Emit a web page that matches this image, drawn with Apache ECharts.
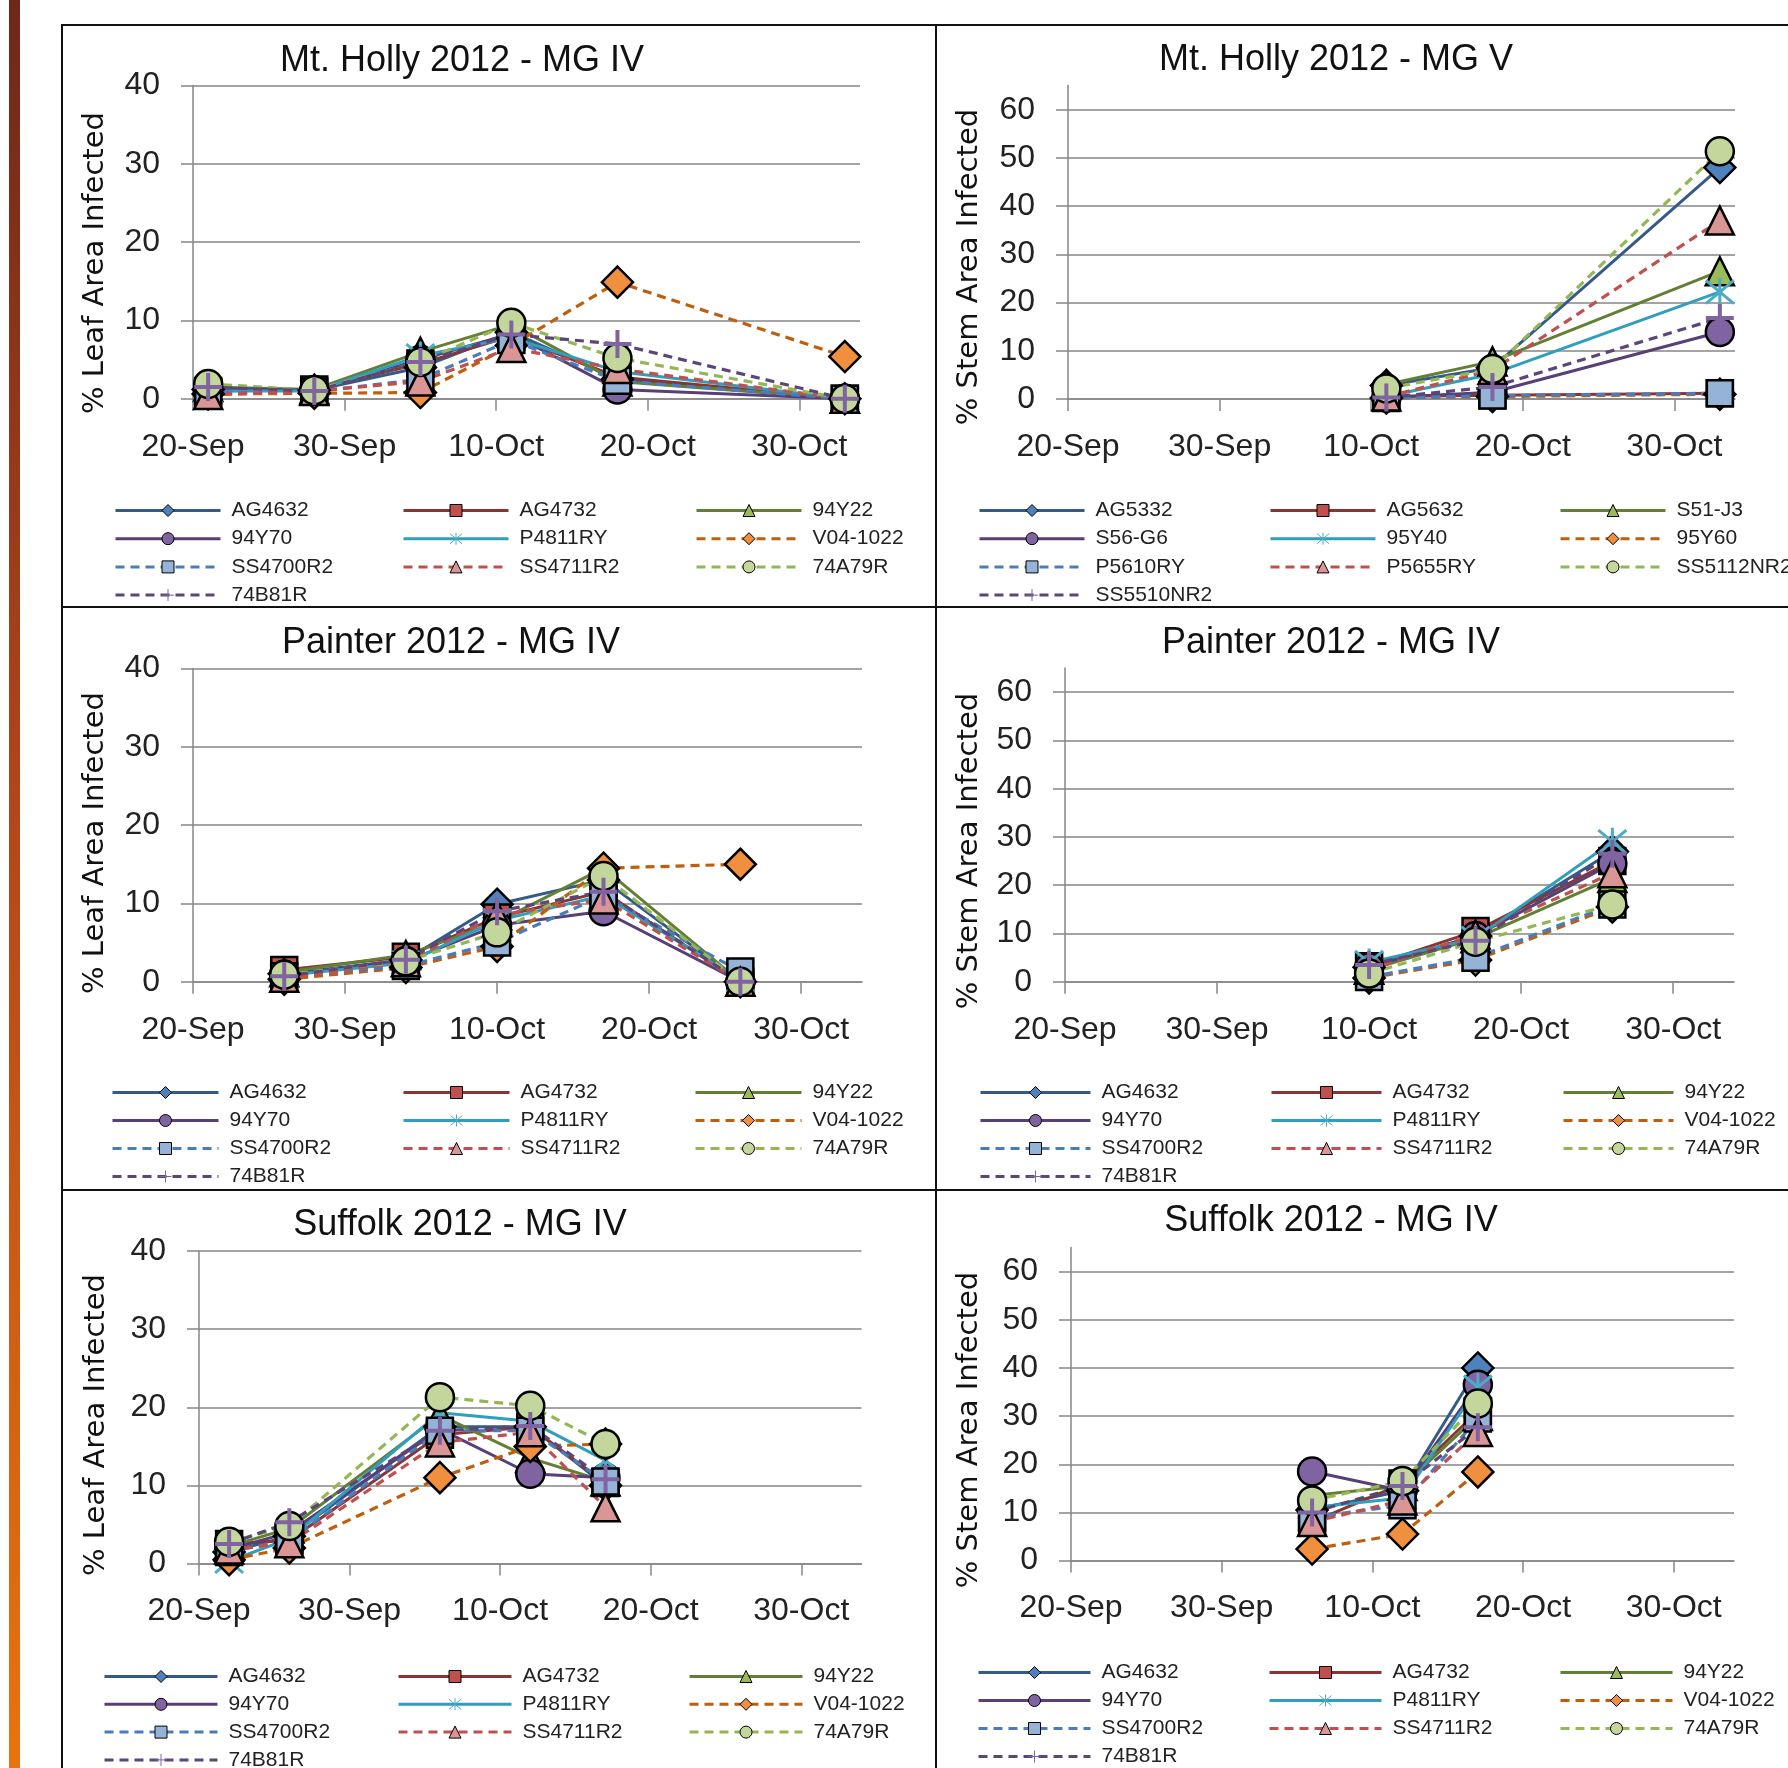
<!DOCTYPE html>
<html>
<head>
<meta charset="utf-8">
<title>Leaf and stem area infected, 2012</title>
<script src="https://cdn.jsdelivr.net/npm/echarts@6/dist/echarts.min.js"></script>
<style>
  html, body { margin: 0; padding: 0; background: #fff; }
  #wrap { position: relative; width: 1788px; height: 1768px; overflow: hidden; background: #fff; }
  #chart { position: absolute; left: 0; top: 0; width: 1788px; height: 1840px; }
  .strip { position: absolute; left: 9px; top: 0; width: 11px; height: 1768px;
           background: linear-gradient(#6e2819, #b0461b 45%, #e8730f); }
  .rule { position: absolute; background: #111; }
</style>
</head>
<body>
<div id="wrap">
  <div class="strip"></div>
  <div class="rule" style="left:61px; top:24px; width:1727px; height:2px;"></div>
  <div class="rule" style="left:61px; top:24px; width:2px; height:1744px;"></div>
  <div class="rule" style="left:935px; top:24px; width:2px; height:1744px;"></div>
  <div class="rule" style="left:61px; top:606px; width:1727px; height:2px;"></div>
  <div class="rule" style="left:61px; top:1189px; width:1727px; height:2px;"></div>
  <div id="chart"></div>
</div>
<script>
// ---- data ---------------------------------------------------------------
const dateTicks = ['20-Sep', '30-Sep', '10-Oct', '20-Oct', '30-Oct'];

const entriesIV = ['AG4632', 'AG4732', '94Y22', '94Y70', 'P4811RY',
                   'V04-1022', 'SS4700R2', 'SS4711R2', '74A79R', '74B81R'];
const entriesV  = ['AG5332', 'AG5632', 'S51-J3', 'S56-G6', '95Y40',
                   '95Y60', 'P5610RY', 'P5655RY', 'SS5112NR2', 'SS5510NR2'];

// Mt. Holly, MG IV, % leaf area infected (one row per entry)
const mtHollyLeafDates = ['2012-09-21', '2012-09-28', '2012-10-05', '2012-10-11', '2012-10-18', '2012-11-02'];
const mtHollyLeafValues = [
  [1.2, 1.1, 4.0, 8.5, 2.5, 0],
  [1.0, 1.2, 4.5, 8.0, 2.8, 0],
  [1.5, 1.2, 6.0, 9.5, 2.2, 0],
  [1.3, 1.1, 5.0, 8.3, 1.2, 0],
  [1.0, 1.0, 5.5, 7.8, 3.5, 0],
  [0.6, 0.7, 0.8, 6.8, 14.9, 5.4],
  [0.8, 0.9, 2.5, 7.5, 2.3, 0],
  [0.5, 1.0, 2.2, 6.5, 3.8, 0],
  [1.9, 1.1, 4.7, 9.7, 5.2, 0],
  [1.5, 1.0, 4.7, 8.2, 7.0, 0]
];

// Mt. Holly, MG V, % stem area infected
const mtHollyStemDates = ['2012-10-11', '2012-10-18', '2012-11-02'];
const mtHollyStemValues = [
  [2.8, 6.5, 48.0],
  [0.5, 0.8, 1.2],
  [3.0, 7.8, 26.5],
  [0.3, 1.4, 13.9],
  [0.5, 5.2, 22.2],
  [0.2, 0.5, 1.0],
  [0.2, 0.7, 1.2],
  [0.5, 6.0, 37.0],
  [2.2, 6.2, 51.4],
  [0.3, 2.5, 16.8]
];

// Painter, MG IV, % leaf area infected
const painterLeafDates = ['2012-09-26', '2012-10-04', '2012-10-10', '2012-10-17', '2012-10-26'];
const painterLeafValues = [
  [1.0, 2.8, 9.9, 13.0, 0],
  [1.5, 3.2, 8.2, 11.5, 0],
  [1.2, 3.4, 7.6, 14.5, 0],
  [0.9, 2.6, 7.2, 9.0, 0],
  [0.8, 2.4, 7.8, 11.0, 0.2],
  [0.3, 1.8, 4.5, 14.5, 15.0],
  [0.7, 2.0, 5.0, 11.0, 1.3],
  [0.5, 2.5, 8.5, 10.5, 0],
  [0.9, 2.6, 6.3, 13.5, 0],
  [0.7, 2.8, 9.0, 11.5, 0]
];

// Painter, MG IV, % stem area infected
const painterStemDates = ['2012-10-10', '2012-10-17', '2012-10-26'];
const painterStemValues = [
  [3.0, 9.5, 27.0],
  [3.2, 10.5, 25.0],
  [2.5, 9.0, 21.5],
  [3.0, 9.5, 24.5],
  [4.0, 9.0, 29.0],
  [0.8, 4.5, 15.5],
  [1.0, 5.0, 16.0],
  [2.5, 9.8, 22.5],
  [1.7, 8.3, 16.0],
  [3.5, 8.5, 26.5]
];

// Suffolk, MG IV, % leaf area infected
const suffolkLeafDates = ['2012-09-22', '2012-09-26', '2012-10-06', '2012-10-12', '2012-10-17'];
const suffolkLeafValues = [
  [1.5, 3.5, 17.5, 17.5, 10.0],
  [2.5, 3.0, 16.5, 17.5, 10.3],
  [2.2, 4.5, 19.0, 13.5, 10.5],
  [1.8, 4.0, 17.2, 11.5, 11.0],
  [0.3, 3.2, 19.3, 18.2, 13.2],
  [0.5, 2.0, 11.0, 15.0, 15.3],
  [1.5, 3.0, 17.0, 17.0, 10.5],
  [1.8, 2.6, 15.5, 16.8, 7.2],
  [2.8, 4.8, 21.3, 20.2, 15.3],
  [2.5, 5.3, 17.0, 17.6, 10.8]
];

// Suffolk, MG IV, % stem area infected
const suffolkStemDates = ['2012-10-06', '2012-10-12', '2012-10-17'];
const suffolkStemValues = [
  [10.5, 14.5, 40.0],
  [8.0, 16.0, 31.0],
  [13.5, 15.5, 30.0],
  [18.5, 14.5, 36.5],
  [11.0, 13.0, 36.0],
  [2.4, 5.5, 18.4],
  [9.0, 11.5, 29.5],
  [8.0, 12.5, 26.7],
  [12.5, 16.5, 32.6],
  [10.0, 15.5, 27.7]
];

// ---- styles -------------------------------------------------------------
const FONT = "'Liberation Sans', Arial, sans-serif";
const AXIS_GREY = '#868686';
const STAR = 'path://M0,0L10,10M10,0L0,10M5,-1L5,11';
const PLUS = 'path://M5,0L5,10M0,5L10,5';

const lineColors  = ['#345a8a', '#8a3532', '#627f34', '#583f78', '#2f9fbd',
                     '#bf5f0c', '#4a7cbd', '#c0504d', '#94b654', '#5c4678'];
const markerFills = ['#4f81bd', '#c0504d', '#9bbb59', '#8064a2', null,
                     '#f0903f', '#95b3d7', '#d99694', '#c3d69b', null];
const strokeMarks = ['', '', '', '', '#4bacc6', '', '', '', '', '#8064a2'];
const markerShapes = ['diamond', 'rect', 'triangle', 'circle', STAR,
                      'diamond', 'rect', 'triangle', 'circle', PLUS];
const markerSizes = [31, 26, 28, 28, 28, 31, 26, 28, 28, 28];
const dashedLine  = [false, false, false, false, false, true, true, true, true, true];

// ---- panel layout -------------------------------------------------------
const panels = [
  { title: 'Mt. Holly 2012 - MG IV', yName: '% Leaf Area Infected', names: entriesIV,
    dates: mtHollyLeafDates, values: mtHollyLeafValues, yMax: 40,
    grid: [193, 85.6, 667, 313.2], titleAt: [462, 61], yNameAt: [95, 263],
    legendLeft: [114, 402, 695], legendTop: 500, legendW: 105, legendGap: 7.2 },
  { title: 'Mt. Holly 2012 - MG V', yName: '% Stem Area Infected', names: entriesV,
    dates: mtHollyStemDates, values: mtHollyStemValues, yMax: 65,
    grid: [1068, 85.6, 667, 313.4], titleAt: [1336, 60], yNameAt: [969, 267],
    legendLeft: [978, 1269, 1559], legendTop: 500, legendW: 105, legendGap: 7.2 },
  { title: 'Painter 2012 - MG IV', yName: '% Leaf Area Infected', names: entriesIV,
    dates: painterLeafDates, values: painterLeafValues, yMax: 40,
    grid: [193, 668.5, 669, 313.2], titleAt: [451, 643], yNameAt: [95, 843],
    legendLeft: [111, 402, 694], legendTop: 1082, legendW: 106, legendGap: 7 },
  { title: 'Painter 2012 - MG IV', yName: '% Stem Area Infected', names: entriesIV,
    dates: painterStemDates, values: painterStemValues, yMax: 65,
    grid: [1065, 668, 669, 313.8], titleAt: [1331, 643], yNameAt: [969, 851],
    legendLeft: [979, 1270, 1562], legendTop: 1082, legendW: 110, legendGap: 7 },
  { title: 'Suffolk 2012 - MG IV', yName: '% Leaf Area Infected', names: entriesIV,
    dates: suffolkLeafDates, values: suffolkLeafValues, yMax: 40,
    grid: [199, 1251, 662.5, 312.6], titleAt: [460, 1225], yNameAt: [96, 1425],
    legendLeft: [103, 397, 688], legendTop: 1666, legendW: 113, legendGap: 6.8 },
  { title: 'Suffolk 2012 - MG IV', yName: '% Stem Area Infected', names: entriesIV,
    dates: suffolkStemDates, values: suffolkStemValues, yMax: 65,
    grid: [1071, 1247.5, 663, 313.1], titleAt: [1331, 1221], yNameAt: [969, 1430],
    legendLeft: [977, 1268, 1559], legendTop: 1662, legendW: 112, legendGap: 7 }
];

// days after 20 September 2012
const ORIGIN = Date.UTC(2012, 8, 20);
const dayOf = s => Math.round((Date.parse(s + 'T00:00:00Z') - ORIGIN) / 86400000);

const grids = [], xAxes = [], yAxes = [], series = [], legends = [], texts = [];

panels.forEach((p, i) => {
  grids.push({ left: p.grid[0], top: p.grid[1], width: p.grid[2], height: p.grid[3], containLabel: false });

  xAxes.push({
    type: 'value', gridIndex: i, min: 0, max: 44, interval: 10,
    axisLine: { show: true, onZero: false, lineStyle: { color: AXIS_GREY, width: 1.5 } },
    axisTick: { show: true, length: 12, lineStyle: { color: AXIS_GREY, width: 1.5 },
                customValues: [0, 10, 20, 30, 40] },
    axisLabel: { margin: 32, fontSize: 32, color: '#222', fontFamily: FONT,
                 customValues: [0, 10, 20, 30, 40],
                 formatter: v => (v % 10 === 0 ? dateTicks[v / 10] : '') },
    splitLine: { show: false }
  });

  const yTicks = [];
  for (let v = 0; v <= p.yMax - (p.yMax % 10); v += 10) yTicks.push(v);
  const gridColors = yTicks.map(() => AXIS_GREY);
  if (p.yMax % 10) gridColors.push('rgba(0,0,0,0)');

  yAxes.push({
    type: 'value', gridIndex: i, min: 0, max: p.yMax, interval: 10,
    axisLine: { show: true, lineStyle: { color: AXIS_GREY, width: 1.5 } },
    axisTick: { show: true, length: 12, lineStyle: { color: AXIS_GREY, width: 1.5 },
                customValues: yTicks },
    axisLabel: { margin: 33, fontSize: 32, color: '#222', fontFamily: FONT,
                 customValues: yTicks,
                 formatter: v => (v % 10 === 0 ? String(v) : '') },
    splitLine: { show: true, lineStyle: { color: gridColors, width: 1.5 } }
  });

  p.names.forEach((name, k) => {
    const stroke = strokeMarks[k];
    series.push({
      type: 'line', name: name, xAxisIndex: i, yAxisIndex: i,
      data: p.dates.map((d, j) => [dayOf(d), p.values[k][j]]),
      symbol: markerShapes[k], symbolSize: markerSizes[k],
      showAllSymbol: true, animation: false, silent: true,
      lineStyle: { color: lineColors[k], width: dashedLine[k] ? 3.2 : 3,
                   type: dashedLine[k] ? [9, 6] : 'solid' },
      itemStyle: stroke
        ? { color: 'rgba(0,0,0,0)', borderColor: stroke, borderWidth: k === 9 ? 4 : 3 }
        : { color: markerFills[k], borderColor: '#000', borderWidth: 2.5 }
    });
  });

  [0, 1, 2].forEach(c => {
    legends.push({
      orient: 'vertical', left: p.legendLeft[c], top: p.legendTop, padding: 0,
      itemWidth: p.legendW, itemHeight: 15, itemGap: p.legendGap, selectedMode: false,
      data: p.names.filter((_, k) => k % 3 === c),
      itemStyle: { borderWidth: 1 },
      lineStyle: { width: 3 },
      textStyle: { fontSize: 21, lineHeight: 21, color: '#222', fontFamily: FONT, padding: [0, 0, 0, 6] }
    });
  });

  texts.push({
    type: 'text', x: p.titleAt[0], y: p.titleAt[1], silent: true,
    style: { text: p.title, fontSize: 36, fontFamily: FONT, fill: '#111',
             align: 'center', verticalAlign: 'middle', textAlign: 'center', textVerticalAlign: 'middle' }
  });
  texts.push({
    type: 'text', x: p.yNameAt[0], y: p.yNameAt[1], rotation: Math.PI / 2, silent: true,
    style: { text: p.yName, fontSize: 29, fontFamily: "'DejaVu Sans', Verdana, sans-serif", fill: '#111',
             align: 'center', verticalAlign: 'middle', textAlign: 'center', textVerticalAlign: 'middle' }
  });
});

const chart = echarts.init(document.getElementById('chart'), null, { renderer: 'canvas' });
chart.setOption({
  animation: false,
  backgroundColor: 'transparent',
  grid: grids,
  xAxis: xAxes,
  yAxis: yAxes,
  legend: legends,
  series: series,
  graphic: { elements: texts }
});
</script>
</body>
</html>
